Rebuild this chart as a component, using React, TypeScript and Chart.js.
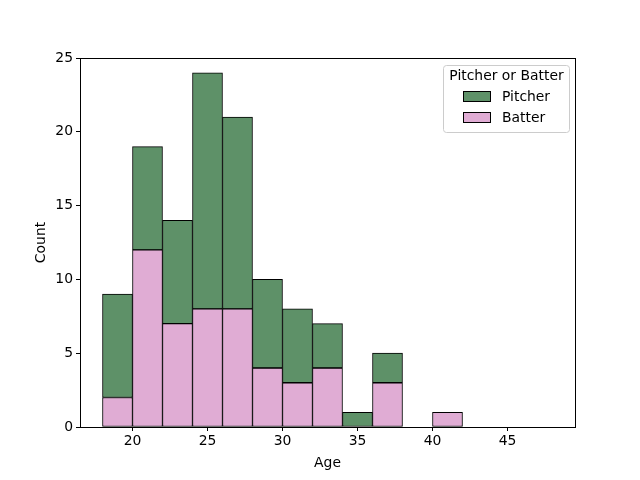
import React, { useEffect, useRef } from "react";
import { Chart, registerables } from "chart.js";

Chart.register(...registerables);

const binCenters = [19, 21, 23, 25, 27, 29, 31, 33, 35, 37, 39, 41, 43, 45, 47];
const batterCounts = [2, 12, 7, 8, 8, 4, 3, 4, 0, 3, 0, 1, 0, 0, 0];
const pitcherCounts = [7, 7, 7, 16, 13, 6, 5, 3, 1, 2, 0, 0, 0, 0, 0];
const xTicks = [20, 25, 30, 35, 40, 45];
const seriesNames = ["Pitcher", "Batter"];
const legendTitle = "Pitcher or Batter";

const GREEN = "rgb(94,145,104)";
const PINK = "rgb(224,172,212)";
const FONT = "DejaVu Sans";

const framePlugin = {
  id: "frame",
  afterDatasetsDraw(chart: any) {
    const { ctx, chartArea: a } = chart;
    ctx.save();
    ctx.strokeStyle = "#000";
    ctx.lineWidth = 1;
    ctx.strokeRect(Math.round(a.left) + 0.5, Math.round(a.top) + 0.5, Math.round(a.right - a.left), Math.round(a.bottom - a.top));
    // legend
    const bx = 443.5, by = 65.5, bw = 126, bh = 67;
    ctx.fillStyle = "rgba(255,255,255,0.8)";
    ctx.strokeStyle = "#cccccc";
    ctx.beginPath();
    (ctx as any).roundRect(bx, by, bw, bh, 3);
    ctx.fill();
    ctx.stroke();
    ctx.fillStyle = "#000";
    ctx.font = `13.9px "${FONT}"`;
    ctx.textBaseline = "middle";
    ctx.textAlign = "center";
    ctx.fillText(legendTitle, bx + bw / 2, 76.5);
    ctx.textAlign = "left";
    const colors = [GREEN, PINK];
    const ys = [97, 118];
    seriesNames.forEach((n, i) => {
      ctx.fillStyle = colors[i];
      ctx.fillRect(463.5, ys[i] - 5.5, 27, 10);
      ctx.strokeStyle = "#000";
      ctx.strokeRect(463.5, ys[i] - 5.5, 27, 10);
      ctx.fillStyle = "#000";
      ctx.fillText(n, 502, ys[i]);
    });
    ctx.restore();
  },
};

export default function App() {
  const ref = useRef<HTMLCanvasElement>(null);
  useEffect(() => {
    document.body.style.margin = "0";
    const chart = new Chart(ref.current!, {
      type: "bar",
      data: {
        datasets: [
          {
            label: seriesNames[1],
            data: binCenters.map((x, i) => ({ x, y: batterCounts[i] })),
            backgroundColor: PINK,
            borderColor: "#000",
            borderWidth: 1,
            borderSkipped: false,
            barPercentage: 1,
            categoryPercentage: 1,
          },
          {
            label: seriesNames[0],
            data: binCenters.map((x, i) => ({ x, y: pitcherCounts[i] })),
            backgroundColor: GREEN,
            borderColor: "#000",
            borderWidth: 1,
            borderSkipped: false,
            barPercentage: 1,
            categoryPercentage: 1,
          },
        ],
      },
      options: {
        animation: false,
        responsive: false,
        devicePixelRatio: 1,
        layout: { padding: { left: 33, top: 58, right: 65, bottom: 8 } },
        plugins: { legend: { display: false }, tooltip: { enabled: false } },
        scales: {
          x: {
            type: "linear",
            stacked: true,
            offset: false,
            min: 16.5,
            max: 49.5,
            afterBuildTicks: (s: any) => {
              s.ticks = xTicks.map((v) => ({ value: v }));
            },
            afterFit: (s: any) => {
              s.height = 45;
            },
            grid: { offset: false, drawOnChartArea: false, drawTicks: true, tickLength: 4, color: "#000" },
            border: { display: true, color: "#000" },
            ticks: { color: "#000", font: { family: FONT, size: 13.9 }, padding: 2, maxRotation: 0 },
            title: { display: true, text: "Age", color: "#000", font: { family: FONT, size: 13.9 }, padding: { top: 2, bottom: 0 } },
          },
          y: {
            stacked: true,
            min: 0,
            max: 25,
            ticks: { stepSize: 5, color: "#000", font: { family: FONT, size: 13.9 }, padding: 3 },
            afterFit: (s: any) => {
              s.width = 47;
            },
            grid: { drawOnChartArea: false, drawTicks: true, tickLength: 4, color: "#000" },
            border: { display: true, color: "#000" },
            title: { display: true, text: "Count", color: "#000", font: { family: FONT, size: 13.9 }, padding: { top: 0, bottom: 4 } },
          },
        },
      },
      plugins: [framePlugin],
    });
    return () => chart.destroy();
  }, []);
  return (
    <div style={{ width: 640, height: 480 }}>
      <canvas ref={ref} width={640} height={480} />
    </div>
  );
}
